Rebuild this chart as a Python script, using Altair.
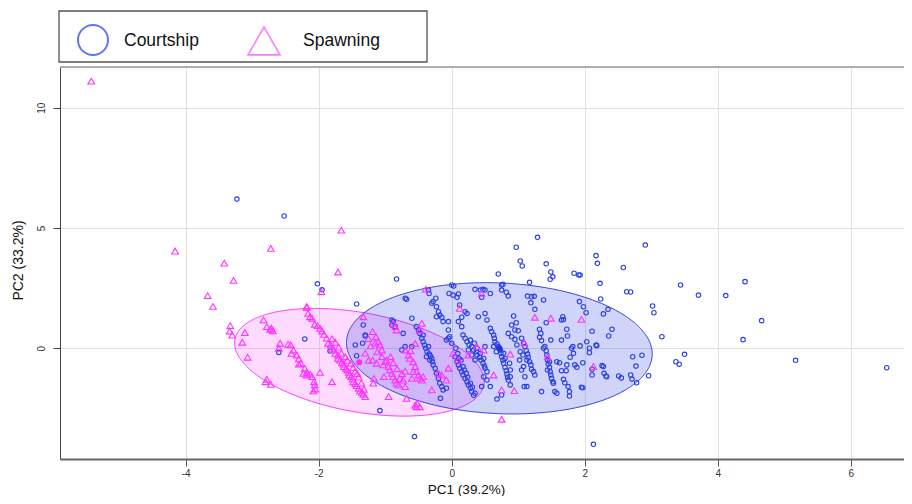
import altair as alt
import numpy as np
import pandas as pd

# ---------------- data ----------------
groups = ["Courtship", "Spawning"]
axis_titles = ["PC1 (39.2%)", "PC2 (33.2%)"]
x_ticks = [-4, -2, 0, 2, 4, 6]
y_ticks = [0, 5, 10]

courtship_points = [
    (-3.23, 6.20), (-2.52, 5.50), (-2.02, 2.68), (-1.95, 2.43), (-0.83, 2.88), (-1.43, 1.84),
    (-2.21, 0.39), (-2.60, -0.17), (-1.83, -0.11), (-1.33, 0.97), (-1.30, 0.55), (-1.45, 0.14),
    (-1.43, -0.31), (-1.34, 0.21), (-1.30, 0.51), (-0.90, 1.18), (-0.85, 0.90), (-1.08, -2.59),
    (-0.56, -3.67), (2.13, -3.99), (0.68, -2.11), (1.77, -1.98),
    (2.91, 4.29), (2.17, 3.85), (2.19, 3.53), (2.58, 3.36), (2.23, 2.70), (2.63, 2.35), (2.69, 2.34),
    (2.24, 2.05), (3.44, 2.63), (3.71, 2.21), (4.12, 2.19), (4.41, 2.77), (4.66, 1.15), (4.38, 0.36),
    (5.17, -0.50), (6.54, -0.81), (3.02, 1.76), (3.04, 1.48), (3.16, 0.48), (3.50, -0.25), (3.37, -0.56),
    (3.42, -0.66), (2.86, -0.29), (2.77, -0.74), (2.96, -1.14), (2.78, -1.43), (2.72, -0.35), (2.41, 0.79),
    (2.36, 0.51), (2.35, 1.62), (2.28, 1.43), (2.11, 0.71), (2.02, 1.48), (1.98, 1.73), (2.03, 0.27),
    (2.07, 0.0), (2.17, 0.14), (2.18, 0.11), (1.97, -0.60), (2.11, -0.87), (2.26, -0.72), (2.29, -1.04),
    (2.32, -1.15), (2.11, -1.11), (2.51, -1.15), (2.55, -1.23), (2.69, -1.11), (2.71, -1.28), (1.97, -1.64),
    (1.93, 3.05),
    (1.29, 4.61), (0.97, 4.20), (1.03, 3.63), (1.06, 3.42), (0.70, 3.09), (1.42, 3.51), (1.49, 3.17),
    (1.52, 2.97), (1.48, 2.87), (1.84, 3.12), (1.91, 3.05), (1.17, 2.74), (0.77, 2.66), (0.75, 2.42),
    (0.82, 2.33), (0.85, 2.17), (0.35, 2.45), (0.47, 2.45), (0.45, 2.12), (1.14, 2.17), (1.20, 2.14),
    (1.24, 2.16),
    (1.19, 1.89), (1.92, 1.94), (1.25, 1.62), (0.93, 1.34), (0.97, 1.06), (1.42, 1.06), (1.67, 1.31),
    (1.68, 1.20), (1.65, 1.18), (0.90, 0.97), (0.95, 0.76), (1.00, 0.73), (1.32, 0.79), (1.34, 0.62),
    (1.32, 0.46), (1.35, 0.32), (1.73, 0.79), (1.74, 0.51), (1.65, 0.34), (1.49, 0.34), (0.95, 0.37),
    (0.98, 0.14),
    (1.05, 0.42), (1.08, 0.21), (1.10, 0.07), (1.12, -0.10), (1.14, -0.24), (1.15, -0.37), (1.17, -0.56),
    (1.19, -0.69), (1.20, -0.87), (1.23, -0.97), (1.25, -1.11), (1.13, -0.49), (1.08, -0.76), (1.07, -0.28),
    (1.03, -0.14), (1.02, -0.49), (1.05, -0.90), (1.10, -1.18), (1.09, -1.59), (1.13, -1.59),
    (1.40, 0.07), (1.42, -0.10), (1.43, -0.28), (1.44, -0.49), (1.45, -0.65), (1.47, -0.79), (1.48, -0.97),
    (1.49, -1.11), (1.50, -1.25), (1.52, -1.39), (1.53, -1.45), (1.47, -0.56), (1.44, -0.90), (1.55, -1.80),
    (1.58, -1.87), (1.38, 0.0),
    (1.58, -0.56), (1.62, -0.60), (1.65, -0.93), (1.72, -0.93), (1.68, -1.29), (1.70, -1.43), (1.75, -1.59),
    (1.77, -1.80), (1.73, -0.69), (1.80, 0.0), (1.83, -0.21), (1.78, -0.37), (1.82, 0.07), (1.93, 0.10),
    (2.07, -0.18), (1.85, -0.69), (1.88, -0.79), (2.28, -0.76), (2.33, -1.18), (1.95, -1.62), (1.35, -1.80),
    (0.88, -1.18), (0.88, -1.52), (1.38, 2.01),
    (0.0, 2.63), (0.03, 2.59), (-0.04, 2.28), (0.02, 2.21), (0.10, 2.26), (0.08, 2.12), (-0.35, 2.42),
    (-0.34, 2.28), (-0.28, 1.94), (-0.30, 1.87), (-0.24, 2.08), (-0.23, 1.73), (-0.20, 1.52), (-0.18, 1.38),
    (-0.15, 1.29), (-0.23, 1.31), (-0.13, 1.11), (-0.05, 1.11), (-0.70, 2.08), (-0.68, 2.04), (-0.60, 1.25),
    (0.12, 1.80), (0.20, 1.52), (0.15, 1.29), (0.10, 1.11), (0.15, 0.90), (0.43, 2.42), (0.50, 2.42),
    (0.58, 2.28), (0.75, 2.63), (0.50, 1.45), (0.53, 1.18), (0.40, 1.31),
    (-0.53, 0.90), (-0.50, 0.76), (-0.48, 0.62), (-0.45, 0.42), (-0.43, 0.27), (-0.41, 0.14), (-0.39, 0.0),
    (-0.37, -0.14), (-0.34, -0.24), (-0.32, -0.32), (-0.30, -0.42), (-0.29, -0.56), (-0.28, -0.69),
    (-0.25, -0.83), (-0.23, -1.04), (-0.20, -1.25), (-0.18, -1.45), (-0.15, -1.59), (-0.13, -1.73),
    (-0.43, 0.55), (-0.35, 0.07), (-0.33, -0.49), (-0.38, -0.35),
    (0.05, -0.35), (0.08, -0.56), (0.10, -0.69), (0.12, -0.83), (0.15, -0.97), (0.17, -1.11), (0.20, -1.25),
    (0.23, -1.39), (0.25, -1.52), (0.28, -1.66), (0.30, -1.80), (0.35, -1.87), (0.11, -0.42), (0.17, -0.76),
    (0.22, -1.04),
    (-0.05, 0.76), (-0.03, 0.48), (0.0, 0.21), (0.06, 0.0), (0.09, -0.22), (0.14, -0.50), (0.19, -0.90),
    (0.24, -1.20), (0.28, -1.45), (0.31, -1.62), (0.33, -1.95),
    (0.17, 0.55), (0.20, 0.42), (0.23, 0.27), (0.26, 0.14), (0.30, 0.07), (0.33, -0.07), (0.37, -0.14),
    (0.38, -0.28), (0.42, -0.37), (0.44, -0.49), (0.47, -0.62), (0.49, -0.74), (0.50, -0.83), (0.53, -0.97),
    (0.28, 0.34), (0.34, 0.21), (0.38, 0.0), (0.43, -0.21), (0.48, -0.42), (0.25, -0.07), (0.30, -0.28),
    (0.35, -0.49),
    (0.58, 0.83), (0.60, 0.69), (0.63, 0.55), (0.64, 0.42), (0.65, 0.27), (0.68, 0.18), (0.70, 0.07),
    (0.73, -0.07), (0.74, -0.21), (0.75, -0.35), (0.77, -0.49), (0.78, -0.62), (0.80, -0.79), (0.82, -0.93),
    (0.83, -1.07), (0.84, -1.20), (0.85, -1.32), (0.63, 0.07), (0.67, -0.14), (0.78, -0.21), (0.80, -0.42),
    (0.87, -0.62), (0.88, -0.90),
    (-0.75, -0.07), (-0.70, 0.07), (-0.88, 1.11), (-0.90, 0.97), (-0.73, 0.62), (-0.60, 0.07), (-0.05, 0.42),
    (-0.08, -1.66), (-0.17, -2.08), (0.75, -1.94), (0.23, 1.45), (-0.08, 0.34), (0.50, 0.07), (0.85, 0.62),
    (0.90, 0.48), (0.48, -1.18), (0.53, -1.32), (0.58, -1.59), (0.45, -1.59),
]

spawning_points = [
    (-5.42, 11.10), (-1.66, 4.91), (-4.16, 4.04), (-2.72, 4.15), (-3.42, 3.54), (-1.71, 3.17),
    (-3.28, 2.82), (-3.67, 2.19), (-1.96, 2.35), (-2.18, 1.74), (-3.59, 1.74), (-0.39, 2.46),
    (-3.33, 0.94), (-3.34, 0.72), (-3.30, 0.55), (-3.11, 0.65), (-3.15, 0.25), (-3.07, -0.37),
    (-2.83, 1.18), (-2.78, 0.90), (-2.73, 0.79), (-2.69, 0.73), (-2.71, 0.83),
    (-2.58, 0.21), (-2.60, 0.0), (-2.46, 0.17), (-2.42, 0.14), (-2.38, -0.07), (-2.41, -0.21),
    (-2.33, -0.28), (-2.30, -0.44), (-2.27, -0.62), (-2.30, -0.66), (-2.21, -0.83), (-2.18, -1.00),
    (-2.23, -1.04), (-2.18, -1.11), (-2.13, -1.08), (-2.10, -1.18), (-2.07, -1.39), (-2.06, -1.52),
    (-2.05, -1.69), (-2.08, -1.77),
    (-2.78, -1.29), (-2.80, -1.39), (-2.72, -1.50), (-1.98, -1.00), (-1.80, -1.39),
    (-2.18, 1.69), (-2.16, 1.45), (-2.13, 1.31), (-2.10, 1.25), (-2.06, 1.00), (-2.02, 0.94), (-1.98, 0.83),
    (-1.95, 0.72), (-1.92, 0.58), (-1.88, 0.42), (-1.86, 0.21), (-1.82, 0.14), (-1.80, 0.0), (-1.77, -0.07),
    (-1.75, -0.21), (-1.71, -0.28), (-1.71, -0.42), (-1.68, -0.49), (-1.65, -0.58), (-1.63, -0.66),
    (-1.62, -0.76), (-1.59, -0.83), (-1.57, -0.90), (-1.55, -1.00), (-1.54, -1.11), (-1.51, -1.18),
    (-1.49, -1.28), (-1.48, -1.39), (-1.45, -1.47), (-1.43, -1.55), (-1.40, -1.66), (-1.38, -1.77),
    (-1.35, -1.83), (-1.33, -1.91), (-1.30, -2.01),
    (-1.60, -0.35), (-1.52, -0.62), (-1.45, -0.95), (-1.40, -1.20), (-1.36, -1.45), (-1.32, -1.70),
    (-1.70, 0.05), (-1.80, 0.40), (-1.75, 0.25), (-1.66, -0.20), (-1.57, -0.50), (-1.48, -0.80),
    (-1.42, -1.05),
    (-1.33, 1.31), (-1.19, 0.69),
    (-1.14, 0.48), (-1.10, 0.27), (-1.15, 0.21), (-1.08, 0.14), (-1.05, -0.07), (-1.19, -0.49),
    (-1.13, -0.62), (-1.03, -0.69), (-0.98, -0.49), (-0.95, -0.76), (-0.93, -0.90), (-0.90, -1.04),
    (-0.88, -1.18), (-0.85, -1.32), (-0.83, -1.45), (-0.78, -1.25), (-0.80, -1.52), (-0.73, -1.32),
    (-0.70, -1.59), (-0.85, 0.90), (-0.83, 0.76), (-0.88, 1.04), (-0.70, -0.07), (-0.65, -0.28),
    (-0.63, -0.42), (-0.58, -0.56), (-0.55, -0.76), (-0.53, -0.97), (-0.50, -1.11), (-0.48, -1.25),
    (-0.45, -1.32), (-0.43, -1.18), (-0.58, -0.97), (-0.45, 1.04), (-0.48, 0.76), (-0.30, -1.73),
    (-0.20, -1.04), (-0.15, -1.11), (-0.08, -1.32), (-0.05, -0.83), (0.02, -0.21), (0.10, -0.49),
    (0.12, 1.66), (0.25, -0.28), (0.38, 0.07), (0.45, 2.28), (0.48, -0.07), (0.63, -1.11), (0.75, -1.73),
    (-0.95, -2.01), (-0.68, -2.08), (-0.55, -2.36), (-0.48, -2.43), (-1.17, -1.25), (-1.02, -1.18),
    (-1.18, -1.45), (-0.53, -2.43), (-0.52, -2.29), (0.75, -2.95),
    (1.25, 1.29), (1.49, 1.25), (1.95, 1.20), (1.09, 0.23), (1.44, -0.35), (2.13, -0.76), (0.94, -1.76),
    (0.88, -0.24),
    (-1.25, 0.40), (-1.22, 0.10), (-1.12, -0.15), (-1.05, -0.35), (-1.00, -0.55), (-0.92, -0.35),
    (-0.88, -0.60), (-0.82, -0.85), (-0.75, -1.05), (-0.70, -0.95), (-0.60, -1.25), (-1.30, -0.20),
    (-1.25, -0.50), (-0.62, -0.10), (-0.55, 0.20),
]

# group centroids (filled dots) and ellipse conjugate semi-axes, in data units
centroid_x = [0.716, -1.39]
centroid_y = [0.0, -0.58]
ellipse_u = [(2.298, -0.288), (1.871, -0.948)]
ellipse_v = [(-0.0446, -2.712), (-0.1346, -2.027)]

# ---------------- styling ----------------
BLUE = "#2b40e2"
MAGENTA = "#ff33ff"
FONT = "Liberation Sans"
W, H = 844, 392
TRI = "M-1,0.866L1,0.866L0,-0.866Z"

pts = pd.DataFrame(
    [dict(x=p[0], y=p[1], group=groups[0]) for p in courtship_points]
    + [dict(x=p[0], y=p[1], group=groups[1]) for p in spawning_points]
)
cent = pd.DataFrame({"x": centroid_x, "y": centroid_y, "group": groups})


def ellipse_outline(i):
    ux, uy = ellipse_u[i]
    vx, vy = ellipse_v[i]
    cx, cy = centroid_x[i], centroid_y[i]
    r = np.hypot(ux, vx)
    a = np.arctan2(vx, ux)
    s = np.linspace(0, np.pi, 241)
    t1, t2 = a + s, a - s
    ya = cy + uy * np.cos(t1) + vy * np.sin(t1)
    yb = cy + uy * np.cos(t2) + vy * np.sin(t2)
    return pd.DataFrame({"x": cx + r * np.cos(s), "y": np.minimum(ya, yb),
                         "y2": np.maximum(ya, yb), "group": groups[i]})


xs = alt.Scale(domain=[-5.89, 6.80], nice=False, zero=False)
ys = alt.Scale(domain=[-4.60, 11.69], nice=False, zero=False)

x_axis = alt.Axis(values=x_ticks, labelExpr="'' + datum.value", grid=True, gridColor="#e0e0e0",
                  domainColor="#666", domainWidth=2, tickColor="#555", tickSize=7,
                  labelFontSize=10, labelColor="#333", labelPadding=2, labelFont=FONT,
                  title=axis_titles[0], titleFontSize=13.5, titleFontWeight="normal", titleFont=FONT,
                  titleColor="#111", titleX=406, titleY=34, titleBaseline="alphabetic", titleAnchor="middle")
y_axis = alt.Axis(values=y_ticks, labelExpr="'' + datum.value", grid=True, gridColor="#e0e0e0",
                  domainColor="#444", domainWidth=1, tickColor="#444", tickSize=7,
                  labelFontSize=10, labelColor="#333", labelAngle=270, labelAlign="center",
                  labelBaseline="bottom", labelPadding=7, labelFont=FONT,
                  title=axis_titles[1], titleFontSize=14, titleFontWeight="normal", titleFont=FONT,
                  titleColor="#111", titleAngle=270, titleX=-42, titleY=193, titleAlign="center",
                  titleBaseline="middle")

X = alt.X("x:Q", scale=xs, axis=x_axis)
Y = alt.Y("y:Q", scale=ys, axis=y_axis)

ell_spawn = alt.Chart(ellipse_outline(1)).mark_area(
    fill="#ff22ff", fillOpacity=0.17, stroke="#ff33ff", strokeWidth=1, strokeOpacity=1
).encode(x=X, y=Y, y2="y2:Q")
ell_court = alt.Chart(ellipse_outline(0)).mark_area(
    fill="#2233dd", fillOpacity=0.21, stroke="#2a3fd8", strokeWidth=1, strokeOpacity=1
).encode(x=X, y=Y, y2="y2:Q")

court = alt.Chart(pts).transform_filter(alt.datum.group == groups[0]).mark_point(
    shape="circle", filled=False, size=20, strokeWidth=1.1, color=BLUE, opacity=1
).encode(x=X, y=Y)
spawn = alt.Chart(pts).transform_filter(alt.datum.group == groups[1]).mark_point(
    shape=TRI, filled=False, size=44, strokeWidth=1.1, color=MAGENTA, opacity=1
).encode(x=X, y=Y)

cent_marks = alt.Chart(cent).mark_point(shape="circle", filled=True, size=38, opacity=1).encode(
    x=X, y=Y,
    color=alt.Color("group:N", scale=alt.Scale(domain=groups, range=["#1f35e0", "#ff2cff"]), legend=None),
)

one = alt.Data(values=[{"k": 0}])
top_rule = alt.Chart(one).mark_rule(color="#9a9a9a", strokeWidth=1.5).encode(
    x=alt.value(0), x2=alt.value(W), y=alt.value(0))

# legend (drawn above the plot area)
leg_box = alt.Chart(one).mark_rect(fill="white", stroke="#555", strokeWidth=1.3).encode(
    x=alt.value(-1), x2=alt.value(367), y=alt.value(-56), y2=alt.value(-5))
leg_c = alt.Chart(one).mark_point(shape="circle", filled=False, size=900, strokeWidth=2,
                                  color="#1f3cf0").encode(x=alt.value(33), y=alt.value(-27))
leg_t = alt.Chart(one).mark_point(shape=TRI, filled=False, size=1024, strokeWidth=1.6,
                                  color="#ff44ff").encode(x=alt.value(204), y=alt.value(-26))
leg_l1 = alt.Chart(pd.DataFrame({"label": [groups[0]]})).mark_text(
    align="left", baseline="middle", fontSize=17.5, font=FONT, color="#111").encode(
    x=alt.value(64), y=alt.value(-26), text="label:N")
leg_l2 = alt.Chart(pd.DataFrame({"label": [groups[1]]})).mark_text(
    align="left", baseline="middle", fontSize=17.5, font=FONT, color="#111").encode(
    x=alt.value(243), y=alt.value(-26), text="label:N")

chart = alt.layer(
    ell_spawn, ell_court, court, spawn, cent_marks, top_rule,
    leg_box, leg_c, leg_t, leg_l1, leg_l2,
).properties(
    width=W, height=H,
    autosize=alt.AutoSizeParams(type="none"),
    padding={"left": 52, "top": 59, "right": 0, "bottom": 37},
).configure_view(stroke=None).configure(font=FONT, background="white")

chart.save("out.html", embed_options={"renderer": "svg", "actions": False})
